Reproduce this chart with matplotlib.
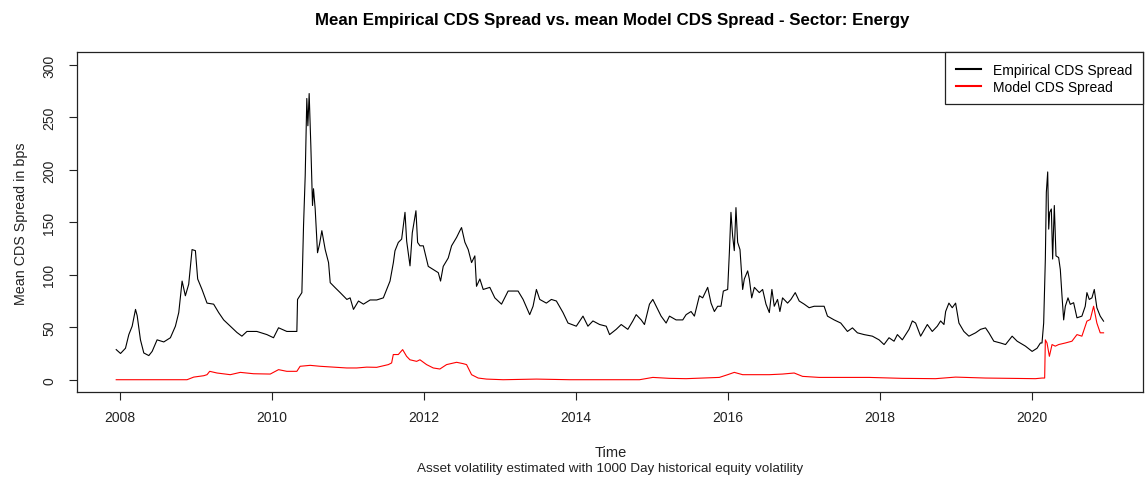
import matplotlib
matplotlib.use("Agg")
import matplotlib.pyplot as plt

plt.rcParams['font.family'] = ['Liberation Sans', 'DejaVu Sans']

# Empirical CDS spread (decimal year, bps)
emp_t = [2007.952, 2008.009, 2008.074, 2008.118, 2008.162, 2008.206, 2008.228, 2008.271, 2008.315,
         2008.381, 2008.425, 2008.490, 2008.578, 2008.665, 2008.731, 2008.775, 2008.819, 2008.862,
         2008.906, 2008.950, 2008.994, 2009.024, 2009.081, 2009.147, 2009.234, 2009.300, 2009.366,
         2009.453, 2009.541, 2009.606, 2009.672, 2009.803, 2009.935, 2010.022, 2010.088, 2010.197,
         2010.329,
         2010.338, 2010.395, 2010.417, 2010.439, 2010.460, 2010.474, 2010.491, 2010.513, 2010.535,
         2010.548, 2010.570, 2010.601, 2010.627, 2010.658, 2010.702, 2010.746, 2010.768, 2010.833,
         2010.899, 2010.987, 2011.030, 2011.074, 2011.140, 2011.205, 2011.293, 2011.380, 2011.467,
         2011.511, 2011.555, 2011.599, 2011.620, 2011.664, 2011.708, 2011.752, 2011.774, 2011.818,
         2011.848, 2011.896, 2011.918, 2011.949,
         2011.993, 2012.058, 2012.124, 2012.190, 2012.220, 2012.255, 2012.321, 2012.365, 2012.431,
         2012.474, 2012.496, 2012.540, 2012.584, 2012.628, 2012.671, 2012.693, 2012.737, 2012.781,
         2012.868, 2012.934, 2013.022, 2013.109, 2013.240, 2013.306, 2013.393, 2013.437, 2013.481,
         2013.525, 2013.612, 2013.678, 2013.744, 2013.831, 2013.897, 2014.006, 2014.094, 2014.159,
         2014.225, 2014.313, 2014.400, 2014.444, 2014.531, 2014.597, 2014.684, 2014.750, 2014.794,
         2014.860, 2014.903, 2014.969, 2015.013, 2015.057, 2015.122, 2015.188, 2015.232, 2015.319,
         2015.407, 2015.451, 2015.516, 2015.560, 2015.626, 2015.669, 2015.735, 2015.779, 2015.823,
         2015.866, 2015.910, 2015.941, 2015.998, 2016.020, 2016.041, 2016.063, 2016.085, 2016.107,
         2016.129, 2016.160, 2016.195, 2016.217, 2016.261, 2016.283, 2016.314, 2016.349, 2016.414,
         2016.458, 2016.502, 2016.546,
         2016.580, 2016.611, 2016.654, 2016.685, 2016.720, 2016.786, 2016.830, 2016.887, 2016.939,
         2017.005, 2017.070, 2017.136, 2017.202, 2017.267, 2017.311, 2017.399, 2017.486, 2017.574,
         2017.640, 2017.705, 2017.793, 2017.902, 2017.990, 2018.055, 2018.121, 2018.187, 2018.231,
         2018.296, 2018.384, 2018.428, 2018.471, 2018.537, 2018.625, 2018.690, 2018.756, 2018.800,
         2018.844, 2018.866, 2018.909, 2018.953, 2018.997, 2019.041, 2019.106, 2019.172, 2019.260,
         2019.325, 2019.391, 2019.435, 2019.500, 2019.588, 2019.654, 2019.741, 2019.807, 2019.916,
         2020.004, 2020.069, 2020.113,
         2020.134, 2020.156, 2020.178, 2020.191, 2020.209, 2020.222, 2020.235, 2020.257, 2020.274,
         2020.296, 2020.318, 2020.353, 2020.375, 2020.397, 2020.419, 2020.441, 2020.476, 2020.506,
         2020.550, 2020.594, 2020.659, 2020.703, 2020.725, 2020.756, 2020.791, 2020.822, 2020.856,
         2020.900, 2020.944]
emp_v = [28.7, 25, 30, 43, 51, 67, 61, 38, 25.5,
         23, 27, 38, 36, 40, 51, 64, 94, 80,
         91, 124, 123, 96, 86, 73, 72, 64, 57,
         51, 45, 41.5, 46, 46, 43, 40, 49.5, 46,
         46,
         76.5, 83, 147, 194.6, 268, 242, 272.7, 223, 166,
         182, 163, 121, 129, 142, 124, 111.6, 92.5, 87.7,
         83, 76.5, 78, 67, 75, 72, 76, 76, 78,
         86, 94, 111.6, 122.8, 130.8, 134, 159.5, 132, 108.5,
         140, 161, 130.8, 127.6,
         127.6, 108, 105, 102, 94, 108, 116, 127.6, 135.6,
         142, 145, 131, 124, 111.6, 118, 89, 96, 86,
         88, 78, 72, 84.5, 84.5, 76.5, 62, 70, 86,
         76.5, 73, 76.5, 75, 64, 54, 51, 60.6, 51,
         56, 52.6, 51, 43, 48, 52.6, 48, 56, 62,
         57, 52.6, 72, 76.5, 70, 60.6, 54, 60.6, 57,
         57, 62, 65, 60.6, 80, 78, 88, 73, 65,
         70, 70, 84.5, 86, 121, 159.5, 137, 123, 164,
         131, 124, 86, 96, 103.7, 96, 78, 88, 83,
         86, 72, 64,
         86, 70, 76.5, 65, 78, 73, 76.5, 83, 75,
         72, 68.6, 70, 70, 70, 60.6, 57, 54, 46,
         49.4, 44.7, 43, 41.5, 38, 33.5, 40, 36.7, 43,
         38, 48, 56, 54, 41.5, 52.6, 46, 51, 56,
         52.6, 65, 73, 68.6, 73, 54, 46, 41.5, 44.7,
         48, 49.4, 44.7, 36.7, 35, 33.5, 41.5, 36.7, 32,
         27, 30, 35,
         35, 54, 115, 178.6, 198, 143.5, 159.5, 162.7, 115,
         166, 118, 116.4, 105, 80, 57, 70, 78, 71.8,
         73.4, 59, 60.6, 70, 83, 76.5, 78, 86, 68.6,
         60.6, 55.8]

# Model CDS spread (decimal year, bps)
mod_t = [2007.952, 2008.884, 2008.972, 2009.103, 2009.147, 2009.182, 2009.278, 2009.453, 2009.585,
         2009.760, 2009.979, 2010.088, 2010.197, 2010.329, 2010.372, 2010.504, 2010.635, 2010.854,
         2010.985, 2011.117, 2011.248, 2011.379, 2011.533, 2011.576, 2011.598, 2011.664, 2011.721,
         2011.773, 2011.817, 2011.905,
         2011.949, 2012.036, 2012.124, 2012.211, 2012.299, 2012.431, 2012.518, 2012.562, 2012.628,
         2012.715, 2012.825, 2013.043, 2013.481, 2013.919, 2014.356, 2014.838, 2015.013, 2015.232,
         2015.451, 2015.669, 2015.888, 2015.998, 2016.085, 2016.195, 2016.326, 2016.546,
         2016.720, 2016.873, 2016.983, 2017.202, 2017.859, 2018.296, 2018.734, 2018.997, 2019.391,
         2020.048, 2020.135, 2020.169,
         2020.178, 2020.200, 2020.231, 2020.266, 2020.309, 2020.353, 2020.441, 2020.528, 2020.594,
         2020.659, 2020.725, 2020.769, 2020.813, 2020.856, 2020.900, 2020.944]
mod_v = [0, 0, 2.5, 3.8, 4.8, 8, 6.4, 4.8, 7,
         5.7, 5.4, 9.6, 8, 8, 12.8, 13.7, 12.8, 11.8,
         11.2, 11.2, 12, 11.8, 14.4, 16, 24, 24, 28.7,
         22.3, 19, 17.5,
         19, 14.4, 11.2, 10.2, 14.4, 16.6, 15.3, 14.4, 4.8,
         1.6, 0.6, 0, 0.6, 0, 0, 0, 2.2, 1.3,
         1, 1.6, 2.2, 4.8, 7, 4.8, 4.8, 4.8,
         5.4, 6.4, 3.2, 2.2, 2.2, 1.3, 1, 2.5, 1.6,
         1, 1.6, 1.6,
         38, 35, 22.3, 33.5, 32, 33.5, 35, 36.7, 43,
         41.5, 55.8, 57.4, 70, 54, 44.7, 44.7]

x_ticks = [2008, 2010, 2012, 2014, 2016, 2018, 2020]
y_ticks = [0, 50, 100, 150, 200, 250, 300]

title = "Mean Empirical CDS Spread vs. mean Model CDS Spread - Sector: Energy"
ylabel = "Mean CDS Spread in bps"
xlabel = "Time"
subtitle = "Asset volatility estimated with 1000 Day historical equity volatility"

fig = plt.figure(figsize=(11.45, 4.81), dpi=100)
ax = fig.add_axes([0.067, 0.1823, 0.9313, 0.7069])

ax.plot(emp_t, emp_v, color='black', lw=0.8, label='Empirical CDS Spread')
ax.plot(mod_t, mod_v, color='red', lw=0.8, label='Model CDS Spread')

span = emp_t[-1] - emp_t[0]
ax.set_xlim(emp_t[0] - 0.04 * span, emp_t[-1] + 0.04 * span)
ax.set_ylim(-12, 312)

ax.set_xticks(x_ticks)
ax.set_xticklabels([str(t) for t in x_ticks])
ax.set_yticks(y_ticks)
ax.set_yticklabels([str(t) for t in y_ticks], rotation=90, va='center')
ax.tick_params(axis='both', direction='out', length=5.8, width=0.8, labelsize=10, colors='#222222')
ax.tick_params(axis='x', pad=7)
ax.tick_params(axis='y', pad=9)
for s in ax.spines.values():
    s.set_linewidth(0.9)
    s.set_color('#222222')

leg = ax.legend(loc='upper right', bbox_to_anchor=(1, 1), borderaxespad=0,
                fancybox=False, edgecolor='#222222', framealpha=1, fontsize=10,
                handlelength=1.8, handletextpad=0.9, borderpad=0.75, labelspacing=0.22)
leg.get_frame().set_linewidth(0.9)
for line in leg.get_lines():
    line.set_linewidth(1.5)

fig.text(0.535, 0.958, title, ha='center', va='center', fontsize=12.2, fontweight='bold')
fig.text(0.018, 0.535, ylabel, ha='center', va='center', rotation=90, fontsize=10.3, color='#222222')
fig.text(0.533, 0.058, xlabel, ha='center', va='center', fontsize=10.5, color='#222222')
fig.text(0.533, 0.024, subtitle, ha='center', va='center', fontsize=9.7, color='#222222')

fig.savefig('out.png', dpi=100)
